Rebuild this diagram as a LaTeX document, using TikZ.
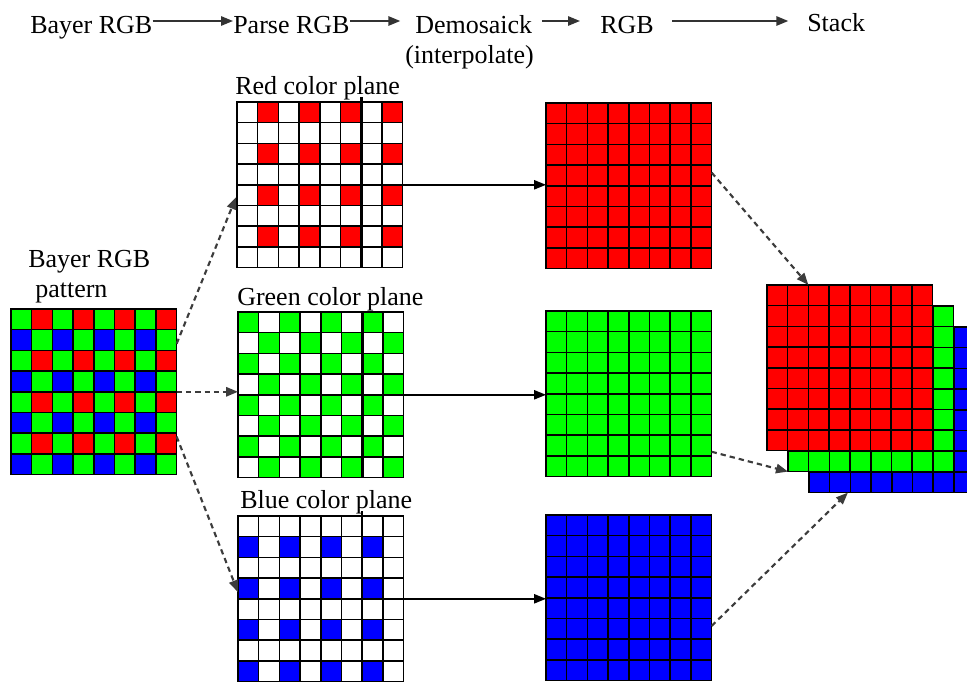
\documentclass[tikz,border=0pt]{standalone}
\usepackage{fontspec}
\setmainfont{Liberation Serif}
\usetikzlibrary{arrows.meta, calc}
\definecolor{cfared}{RGB}{255,0,0}
\definecolor{cfagreen}{RGB}{0,255,0}
\definecolor{cfablue}{RGB}{0,0,255}
\definecolor{dashgray}{RGB}{60,60,60}

% 8x8 cell lines over a plane node
\newcommand{\celllines}[1]{%
  \foreach \k in {1,...,7} {
    \draw[cellline] (#1.north west) ++(\k*20.7,0) -- ++(0,165.6);
    \draw[cellline] (#1.north west) ++(0,\k*20.7) -- ++(165.6,0);
  }
  \draw[cellline] (#1.north west) rectangle (#1.south east);
}

\begin{document}
\begin{tikzpicture}[
    x=0.75pt, y=-0.75pt,
    font=\rmfamily\fontsize{19.5}{23}\selectfont,
    plane/.style={minimum width=124.2pt, minimum height=124.2pt, inner sep=0pt, outer sep=0pt, anchor=north west, fill=white},
    cellline/.style={line width=1.1pt, black},
    seam/.style={line width=2pt, black},
    txt/.style={anchor=base west, inner sep=0pt},
    hdrarrow/.style={-{Triangle[length=9pt,width=7pt]}, line width=1.4pt, black!80},
    flowarrow/.style={-{Triangle[length=9pt,width=7pt]}, line width=1.1pt, black},
    splitarrow/.style={-{Triangle[length=9pt,width=7pt]}, line width=1.6pt, dashgray, dash pattern=on 4pt off 3pt}
]
    \clip (0,0) rectangle (967,685);

    % header
    \node[txt] (hbayer) at (30,34) {Bayer RGB};
    \node[txt] (hparse) at (233,34) {Parse RGB};
    \node[txt] (hdemo) at (415,34) {Demosaick};
    \node[txt] (hinterp) at (405,64) {(interpolate)};
    \node[txt] (hrgb) at (600,34) {RGB};
    \node[txt] (hstack) at (807,32) {Stack};
    \coordinate (hline) at ([yshift=9.75pt]hrgb.base east);

    \draw[hdrarrow] ([yshift=9.75pt]hbayer.base east) -- ([yshift=9.75pt]hparse.base west);
    \draw[hdrarrow, shorten >=11pt] ([yshift=9.75pt]hparse.base east) -- ([yshift=9.75pt]hdemo.base west);
    \draw[hdrarrow, shorten <=7pt, shorten >=15pt] ([yshift=9.75pt]hdemo.base east) -- ([yshift=9.75pt]hrgb.base west);
    \draw[hdrarrow, shorten <=13.5pt, shorten >=14pt] (hline) -- (hline -| hstack.west);

    % labels
    \node[txt] (lblbayer) at (28,267) {Bayer RGB};
    \node[txt] (lblpattern) at (35,297) {pattern};
    \node[txt] (lblred) at (235,94) {Red color plane};
    \node[txt] (lblgreen) at (237,305) {Green color plane};
    \node[txt] (lblblue) at (240,508) {Blue color plane};

    % Bayer pattern
    \node[plane, fill=cfagreen] (bayer) at (11,309) {};
    \foreach \i in {1,3,5,7} \foreach \j in {0,2,4,6}
        \fill[cfared] (bayer.north west) ++(\i*20.7,\j*20.7) rectangle ++(20.7,20.7);
    \foreach \i in {0,2,4,6} \foreach \j in {1,3,5,7}
        \fill[cfablue] (bayer.north west) ++(\i*20.7,\j*20.7) rectangle ++(20.7,20.7);
    \celllines{bayer}

    % parsed planes
    \node[plane] (redplane) at (237,102) {};
    \foreach \i in {1,3,5,7} \foreach \j in {0,2,4,6}
        \fill[cfared] (redplane.north west) ++(\i*20.7,\j*20.7) rectangle ++(20.7,20.7);
    \celllines{redplane}
    \draw[seam] (redplane.north west) ++(3*20.7,0) -- ++(0,165.6);
    \draw[seam] (redplane.north west) ++(6*20.7,-5) -- ++(0,170.6);

    \node[plane] (greenplane) at (238,312) {};
    \foreach \i in {0,2,4,6} \foreach \j in {0,2,4,6}
        \fill[cfagreen] (greenplane.north west) ++(\i*20.7,\j*20.7) rectangle ++(20.7,20.7);
    \foreach \i in {1,3,5,7} \foreach \j in {1,3,5,7}
        \fill[cfagreen] (greenplane.north west) ++(\i*20.7,\j*20.7) rectangle ++(20.7,20.7);
    \celllines{greenplane}
    \draw[seam] (greenplane.north west) ++(3*20.7,0) -- ++(0,165.6);
    \draw[seam] (greenplane.north west) ++(6*20.7,0) -- ++(0,165.6);

    \node[plane] (blueplane) at (238,516) {};
    \foreach \i in {0,2,4,6} \foreach \j in {1,3,5,7}
        \fill[cfablue] (blueplane.north west) ++(\i*20.7,\j*20.7) rectangle ++(20.7,20.7);
    \celllines{blueplane}
    \draw[seam, line width=1.5pt] (blueplane.north west) ++(6*20.7,-5) -- ++(0,170.6);

    % interpolated planes
    \node[plane, fill=cfared] (redfull) at (546,103) {};
    \celllines{redfull}
    \node[plane, fill=cfagreen] (greenfull) at (546,311) {};
    \celllines{greenfull}
    \node[plane, fill=cfablue] (bluefull) at (546,515) {};
    \celllines{bluefull}

    % stack
    \node[plane, fill=cfablue] (stackblue) at (809,327) {};
    \celllines{stackblue}
    \node[plane, fill=cfagreen] (stackgreen) at (788,306) {};
    \celllines{stackgreen}
    \node[plane, fill=cfared] (stackred) at (767,285) {};
    \celllines{stackred}
    \draw[seam] (stackred.north west) ++(3*20.7,0) -- ++(0,165.6);

    % connectors
    \draw[splitarrow, shorten >=2pt] ($(bayer.north east)!0.21!(bayer.south east)$) -- ($(redplane.north west)!0.56!(redplane.south west)$);
    \draw[splitarrow] (bayer.east) -- (bayer.east -| greenplane.west);
    \draw[splitarrow] ($(bayer.north east)!0.77!(bayer.south east)$) -- ($(blueplane.north west)!0.46!(blueplane.south west)$);

    \draw[flowarrow] (redplane.east) -- (redplane.east -| redfull.west);
    \draw[flowarrow] (greenplane.east) -- (greenplane.east -| greenfull.west);
    \draw[flowarrow] (blueplane.east) -- (blueplane.east -| bluefull.west);

    \draw[splitarrow] ($(redfull.north east)!0.42!(redfull.south east)$) -- ($(stackred.north west)!0.25!(stackred.north east)$);
    \draw[splitarrow] ($(greenfull.north east)!0.85!(greenfull.south east)$) -- (stackgreen.south west);
    \draw[splitarrow] ($(bluefull.north east)!0.67!(bluefull.south east)$) -- ($(stackblue.south west)!0.235!(stackblue.south east)$);
\end{tikzpicture}
\end{document}
